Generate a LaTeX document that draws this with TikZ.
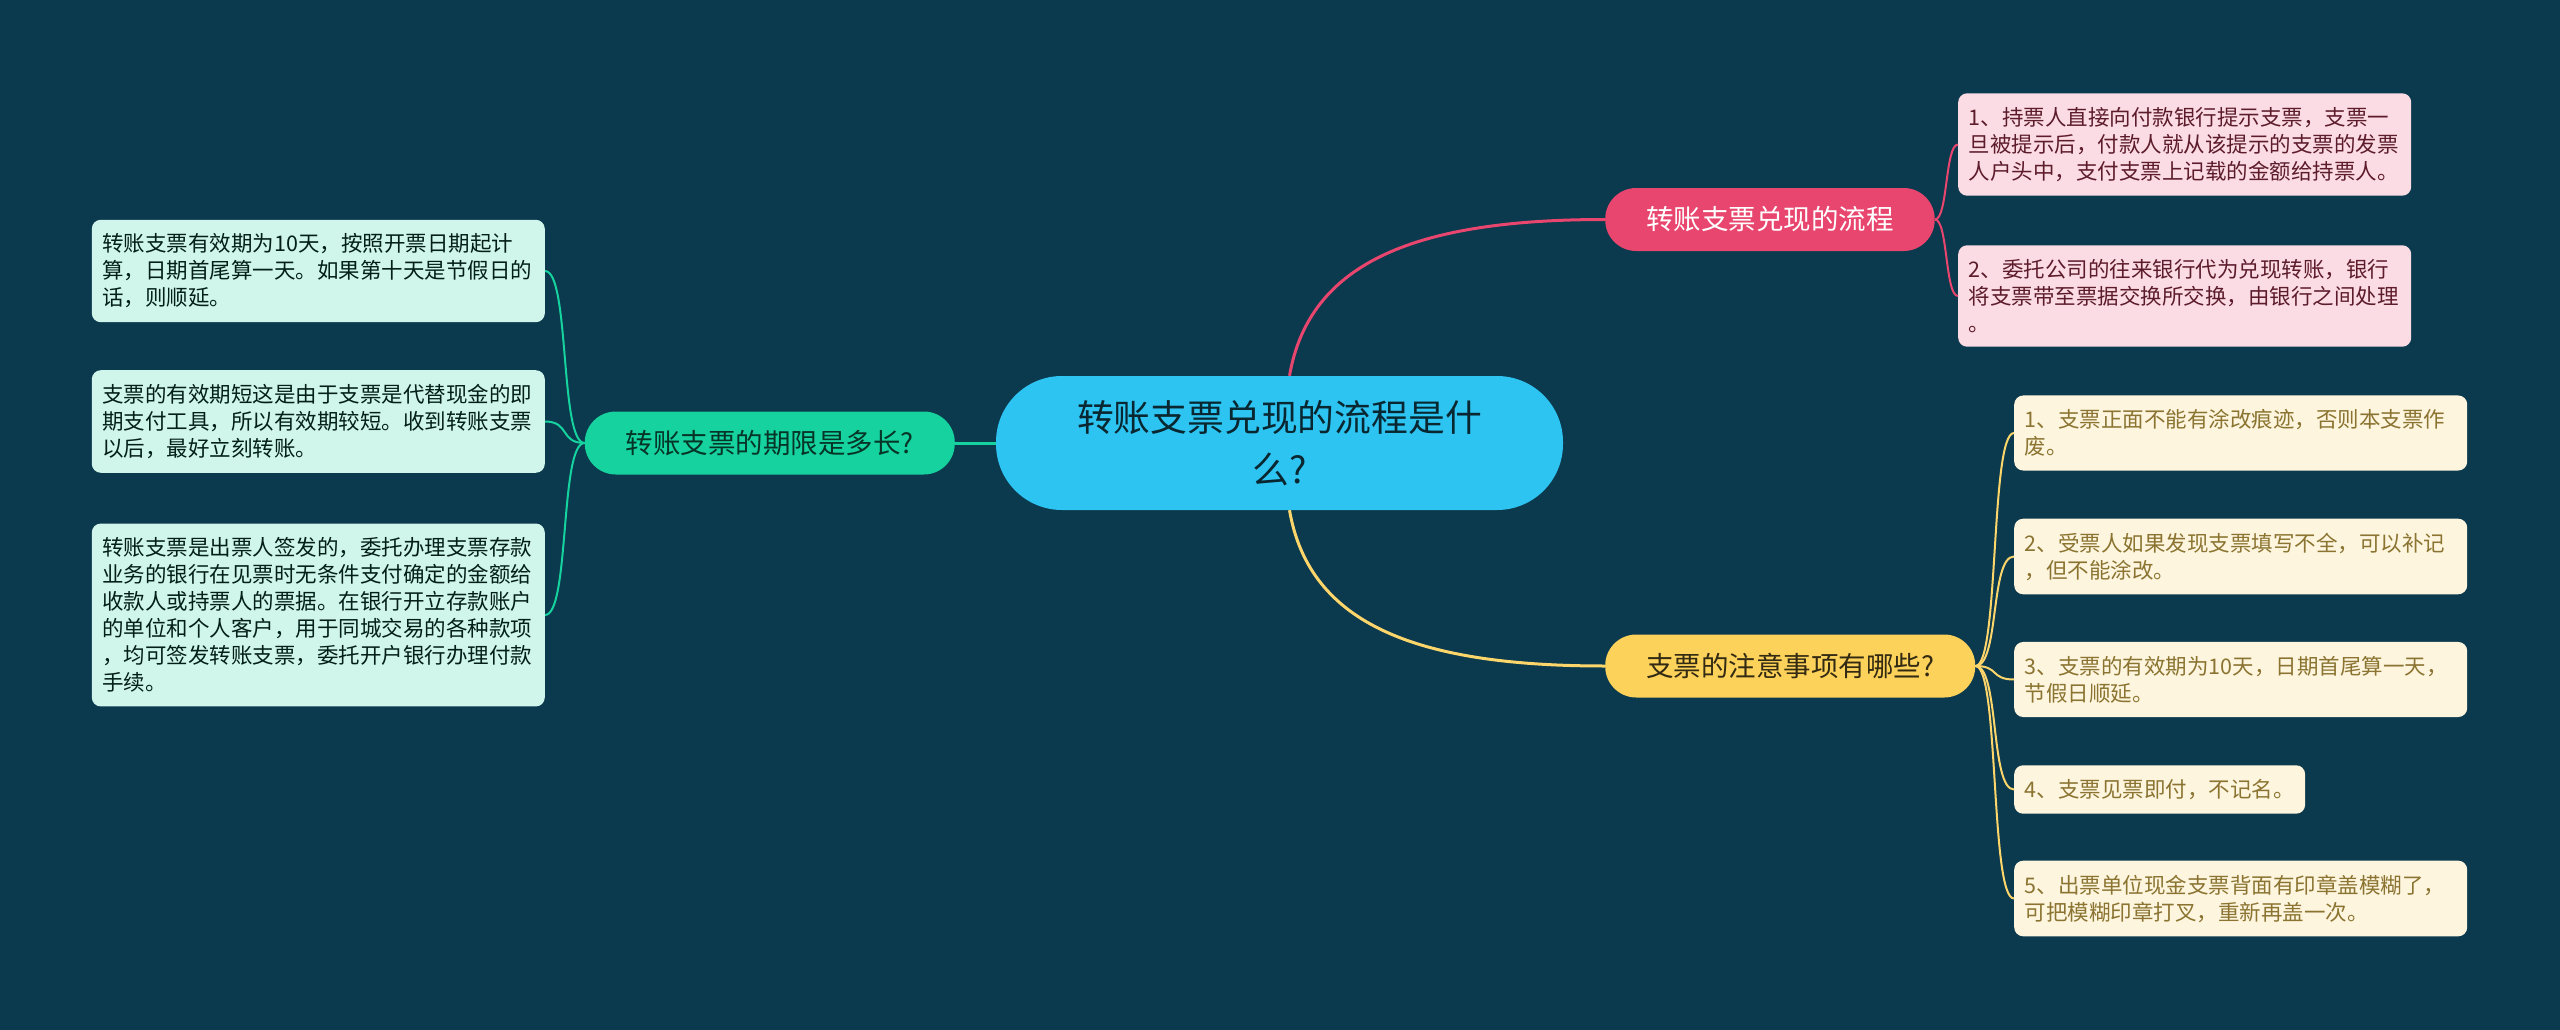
\documentclass[tikz,border=0pt]{standalone}
\usepackage{fontspec}
\setmainfont{Noto Sans CJK SC}
\usepackage{tikz}
\definecolor{sfondo}{RGB}{11,57,77}
\definecolor{azzurro}{RGB}{46,196,242}
\definecolor{verde}{RGB}{22,210,158}
\definecolor{verdechiaro}{RGB}{208,245,235}
\definecolor{rosa}{RGB}{232,70,110}
\definecolor{rosachiaro}{RGB}{252,220,228}
\definecolor{giallo}{RGB}{253,210,90}
\definecolor{giallochiaro}{RGB}{253,245,222}

\begin{document}
\begin{tikzpicture}[x=1pt,y=-1pt,
	root/.style = {fill=azzurro,rounded corners=66pt,minimum width=567pt,minimum height=134pt,align=center,text=black!80!azzurro,font=\fontsize{36.8}{52}\selectfont},
	ramo/.style = {rounded corners=31pt,minimum height=63pt,inner xsep=41pt,font=\fontsize{27.5}{33}\selectfont},
	foglia/.style = {rounded corners=9pt,inner xsep=10.5pt,inner ysep=14pt,align=left,font=\fontsize{21.5}{27}\selectfont},
	largo/.style = {text width=432pt},
	main line/.style = {line width=3pt},
	leaf line/.style = {line width=2pt}
	]
	\fill[sfondo] (0,0) rectangle (2560,1030);
	\useasboundingbox (0,0) rectangle (2560,1030);
	%NODO CENTRALE
	\node[root] (@root) at (1279.5,443) {转账支票兑现的流程是什\\么?};
	%RAMI
	\node[ramo,fill=verde,text=black!75!verde,anchor=east] (@dur) at (955,443) {转账支票的期限是多长?};
	\node[ramo,fill=rosa,text=white,anchor=west] (@flow) at (1605,219.5) {转账支票兑现的流程};
	\node[ramo,fill=giallo,text=black!80!giallo,anchor=west] (@note) at (1605,666) {支票的注意事项有哪些?};
	%FOGLIE A SINISTRA
	\node[foglia,largo,fill=verdechiaro,text=black!85!verde,anchor=east] (@d1) at (545,271) {转账支票有效期为10天，按照开票日期起计\\算，日期首尾算一天。如果第十天是节假日的\\话，则顺延。};
	\node[foglia,largo,fill=verdechiaro,text=black!85!verde,anchor=east] (@d2) at (545,421.5) {支票的有效期短这是由于支票是代替现金的即\\期支付工具，所以有效期较短。收到转账支票\\以后，最好立刻转账。};
	\node[foglia,largo,fill=verdechiaro,text=black!85!verde,anchor=east] (@d3) at (545,615) {转账支票是出票人签发的，委托办理支票存款\\业务的银行在见票时无条件支付确定的金额给\\收款人或持票人的票据。在银行开立存款账户\\的单位和个人客户，用于同城交易的各种款项\\，均可签发转账支票，委托开户银行办理付款\\手续。};
	%FOGLIE ROSA
	\node[foglia,largo,fill=rosachiaro,text=rosa!40!black,anchor=west] (@f1) at (1958,144.5) {1、持票人直接向付款银行提示支票，支票一\\旦被提示后，付款人就从该提示的支票的发票\\人户头中，支付支票上记载的金额给持票人。};
	\node[foglia,largo,fill=rosachiaro,text=rosa!40!black,anchor=west] (@f2) at (1958,296) {2、委托公司的往来银行代为兑现转账，银行\\将支票带至票据交换所交换，由银行之间处理\\。};
	%FOGLIE GIALLE
	\node[foglia,largo,fill=giallochiaro,text=giallo!55!black,anchor=west] (@n1) at (2014,433) {1、支票正面不能有涂改痕迹，否则本支票作\\废。};
	\node[foglia,largo,fill=giallochiaro,text=giallo!55!black,anchor=west] (@n2) at (2014,556.5) {2、受票人如果发现支票填写不全，可以补记\\，但不能涂改。};
	\node[foglia,largo,fill=giallochiaro,text=giallo!55!black,anchor=west] (@n3) at (2014,679.5) {3、支票的有效期为10天，日期首尾算一天，\\节假日顺延。};
	\node[foglia,fill=giallochiaro,text=giallo!55!black,anchor=west] (@n4) at (2014,789.5) {4、支票见票即付，不记名。};
	\node[foglia,largo,fill=giallochiaro,text=giallo!55!black,anchor=west] (@n5) at (2014,898.5) {5、出票单位现金支票背面有印章盖模糊了，\\可把模糊印章打叉，重新再盖一次。};
	%COLLEGAMENTI PRINCIPALI
	\draw[main line,verde] (@root.west) -- (@dur.east);
	\draw[main line,rosa] ([xshift=10pt]@root.north) .. controls +(20,-116) and +(-185,0) .. (@flow.west);
	\draw[main line,giallo!90!white] ([xshift=10pt]@root.south) .. controls +(20,116) and +(-185,0) .. (@note.west);
	%COLLEGAMENTI FOGLIE
	\foreach \f in {@d1,@d2,@d3}
		\draw[leaf line,verde] (@dur.west) .. controls +(-25,0) and +(25,0) .. (\f.east);
	\foreach \f in {@f1,@f2}
		\draw[leaf line,rosa] (@flow.east) .. controls +(13,0) and +(-13,0) .. (\f.west);
	\foreach \f in {@n1,@n2,@n3,@n4,@n5}
		\draw[leaf line,giallo!90!white] (@note.east) .. controls +(24,0) and +(-24,0) .. (\f.west);
\end{tikzpicture}
\end{document}
